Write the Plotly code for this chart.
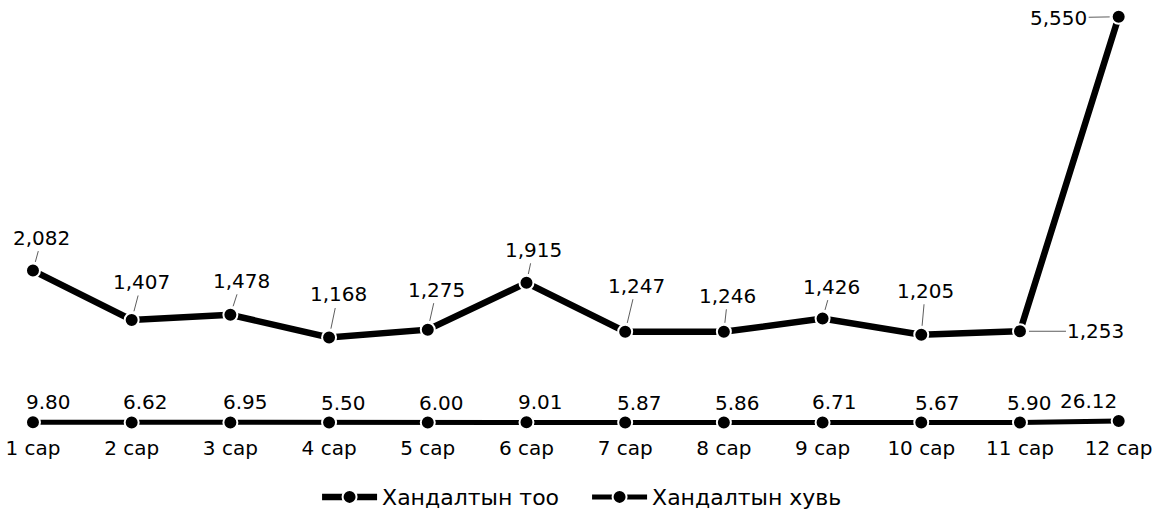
import plotly.graph_objects as go

months = ["1 сар", "2 сар", "3 сар", "4 сар", "5 сар", "6 сар",
          "7 сар", "8 сар", "9 сар", "10 сар", "11 сар", "12 сар"]
visits = [2082, 1407, 1478, 1168, 1275, 1915, 1247, 1246, 1426, 1205, 1253, 5550]
share = [9.80, 6.62, 6.95, 5.50, 6.00, 9.01, 5.87, 5.86, 6.71, 5.67, 5.90, 26.12]
name_visits = "Хандалтын тоо"
name_share = "Хандалтын хувь"

# label offsets (pixels) for the count labels (leader-line labels)
count_ax = [9, 10, 11, 9, 9, 7, 11, 4, 9, 4, 76, -60]
count_ay = [-33, -38, -34, -43, -40, -33, -46, -36, -32, -44, 0, 1]
# label offsets (pixels) for the percentage labels
share_dx = [16, 14, 15, 14, 14, 14, 14, 14, 12, 16, 10, -30]
share_dy = 20

x = list(range(len(months)))
FONT = "DejaVu Sans, Verdana, sans-serif"

fig = go.Figure()
fig.add_trace(go.Scatter(
    x=x, y=visits, name=name_visits, mode="lines+markers",
    line=dict(color="black", width=6.5),
    marker=dict(size=14, color="black", line=dict(color="white", width=2)),
    hoverinfo="skip",
))
fig.add_trace(go.Scatter(
    x=x, y=share, name=name_share, mode="lines+markers",
    line=dict(color="black", width=5),
    marker=dict(size=14, color="black", line=dict(color="white", width=2)),
    hoverinfo="skip",
))

for i, v in enumerate(visits):
    fig.add_annotation(
        x=x[i], y=v, text=f"{v:,}", showarrow=True, arrowhead=0,
        arrowwidth=0.8, arrowcolor="#333", ax=count_ax[i], ay=count_ay[i],
        standoff=9, startstandoff=0,
        font=dict(size=20, color="black", family=FONT),
    )

for i, v in enumerate(share):
    fig.add_annotation(
        x=x[i], y=v, text=f"{v:.2f}", showarrow=False,
        xanchor="center", yanchor="middle",
        xshift=share_dx[i], yshift=share_dy,
        font=dict(size=20, color="black", family=FONT),
    )

fig.update_layout(
    width=1170, height=515,
    margin=dict(l=0, r=0, t=0, b=85, autoexpand=False),
    paper_bgcolor="white", plot_bgcolor="white",
    font=dict(family=FONT, size=20, color="black"),
    showlegend=True, hovermode=False,
    legend=dict(orientation="h", x=0.271, xanchor="left", y=-0.156, yanchor="middle",
                font=dict(size=22, family=FONT), itemwidth=55, entrywidth=200),
    xaxis=dict(range=[-0.334, 11.52], tickvals=x, ticktext=months,
               showgrid=False, zeroline=False, showline=False, ticks="",
               automargin=False, ticklabelstandoff=4,
               tickfont=dict(size=20, family=FONT)),
    yaxis=dict(range=[-96, 5779], visible=False, showgrid=False, zeroline=False,
               automargin=False),
)

fig.write_html("out.html", config={"displayModeBar": False, "staticPlot": True},
               post_script="document.body.style.margin='0';document.body.style.overflow='hidden';")
